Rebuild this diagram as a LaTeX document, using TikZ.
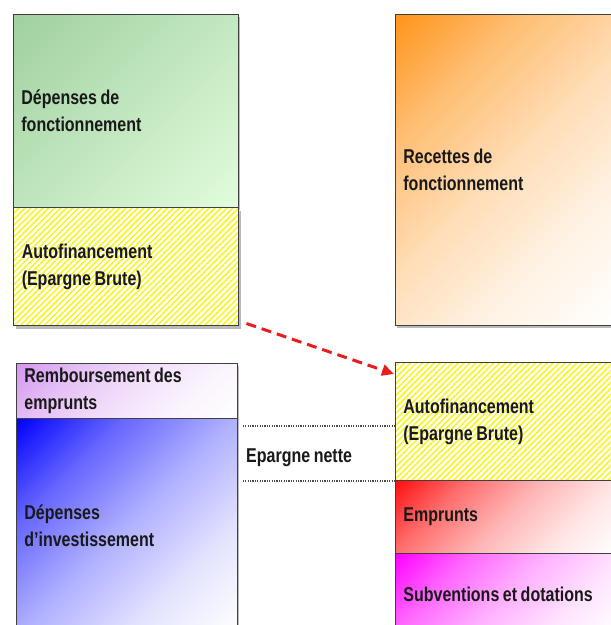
\documentclass[tikz,border=0pt]{standalone}
\usepackage{fontspec}
\newfontfamily\lbl{Liberation Sans}[FakeStretch=0.8,WordSpace=0.8]
\usetikzlibrary{shadows,patterns.meta,calc,arrows.meta}
\definecolor{greenA}{RGB}{160,208,160}
\definecolor{greenB}{RGB}{226,252,220}
\definecolor{orangeA}{RGB}{255,148,25}
\definecolor{pinkA}{RGB}{212,150,240}
\definecolor{blueA}{RGB}{0,0,255}
\definecolor{redA}{RGB}{255,15,15}
\definecolor{magA}{RGB}{255,0,255}
\definecolor{hatchY}{RGB}{250,245,20}
\definecolor{arrowR}{RGB}{232,30,30}
\colorlet{gradc}{blue}
\colorlet{gradd}{white}
\pgfdeclareverticalshading[gradc,gradd]{diagfade}{100bp}{color(0bp)=(gradd); color(14.6bp)=(gradd); color(32bp)=(gradc!11!gradd); color(50bp)=(gradc!31!gradd); color(68bp)=(gradc!60!gradd); color(85.4bp)=(gradc); color(100bp)=(gradc)}
\pgfdeclareverticalshading[gradc,gradd]{diaglin}{100bp}{color(0bp)=(gradd); color(14.6bp)=(gradd); color(85.4bp)=(gradc); color(100bp)=(gradc)}
\begin{document}
\begin{tikzpicture}[x=1pt,y=-1pt,
  box/.style={draw=black!75, line width=0.8pt, rectangle, anchor=north west,
    inner xsep=8pt, inner ysep=0pt, align=flush left,
    font=\lbl\bfseries\fontsize{20}{27}\selectfont, text=black!90,
    drop shadow={shadow xshift=2pt, shadow yshift=-3pt, opacity=0.45, fill=black!60}},
  grad/.style 2 args={/utils/exec={\colorlet{gradc}{#1}\colorlet{gradd}{#2}}, shade, shading=diagfade, shading angle=45},
  lingrad/.style 2 args={/utils/exec={\colorlet{gradc}{#1}\colorlet{gradd}{#2}}, shade, shading=diaglin, shading angle=45},
  hatch/.style={preaction={fill=white}, pattern={Lines[angle=45,distance=4.2pt,line width=1.5pt]}, pattern color=hatchY},
  redarrow/.style={draw=arrowR, line width=3pt, dash pattern=on 10pt off 6pt, -{Triangle[length=12pt,width=11pt]}},
  dotline/.style={draw=black!70, line width=1.4pt, dash pattern=on 1.2pt off 1.2pt},
  lbltext/.style={font=\lbl\bfseries\fontsize{20}{27}\selectfont, text=black!90, inner sep=0pt, anchor=west}
]
\useasboundingbox (0,0) rectangle (611,625);
\clip (0,0) rectangle (611,625);

% top left column
\node[box, lingrad={greenA}{greenB},
      minimum width=225pt, minimum height=193pt, text width=209pt] (tlG) at (13,14)
      {Dépenses de\\fonctionnement};
\node[box, hatch, minimum width=225pt, minimum height=118pt, text width=209pt] (tlY) at (13,207)
      {Autofinancement\\(Epargne Brute)};

% top right
\node[box, grad={orangeA}{white}, minimum width=222pt, minimum height=311pt, text width=206pt] (tr) at (395,14)
      {Recettes de\\fonctionnement};

% bottom left column
\node[box, grad={pinkA}{white}, minimum width=221pt, minimum height=55pt, text width=205pt] (blP) at (16,363)
      {Remboursement des\\emprunts};
\node[box, grad={blueA}{white}, minimum width=221pt, minimum height=214pt, text width=205pt] (blB) at (16,418)
      {Dépenses\\d’investissement};

% bottom right column
\node[box, hatch, minimum width=222pt, minimum height=118pt, text width=206pt] (brY) at (395,362)
      {Autofinancement\\(Epargne Brute)};
\node[box, grad={redA}{white}, minimum width=222pt, minimum height=73pt, text width=206pt] (brR) at (395,480)
      {Emprunts};
\node[box, grad={magA}{white}, minimum width=222pt, minimum height=82pt, text width=206pt] (brM) at (395,553)
      {Subventions et dotations};

% epargne nette
\draw[dotline] ($(blB.north east)+(5,8)$) -- ($(brY.north west)+(0,64)$);
\draw[dotline] ($(blB.north east)+(5,63)$) -- ($(brR.north west)+(0,1)$);
\node[lbltext] (en) at (246,458) {Epargne nette};

% arrow
\coordinate (a1) at ($(tlY.south east)+(7,-3)$);
\coordinate (a2) at ($(brY.north west)+(-1,12)$);
\draw[redarrow] (a1) -- (a2);
\end{tikzpicture}
\end{document}
